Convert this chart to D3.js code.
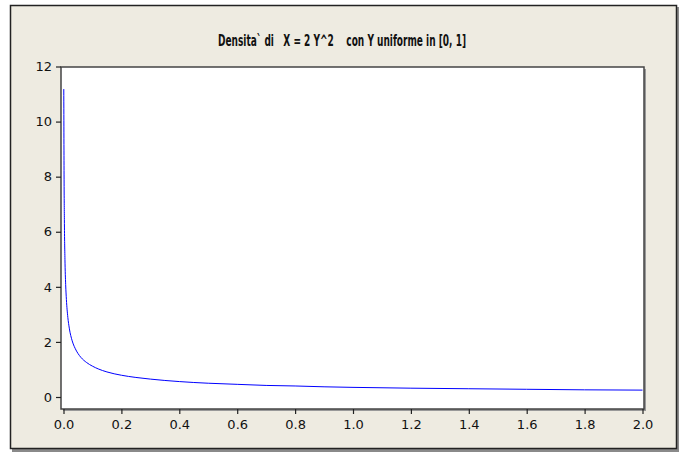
<!DOCTYPE html>
<html>
<head>
<meta charset="utf-8">
<script src="https://cdn.jsdelivr.net/npm/d3@7"></script>
<style>
  body { margin: 0; background: #fff; }
  text { font-family: "DejaVu Sans", Arial, sans-serif; fill: #111; }
</style>
</head>
<body>
<svg width="684" height="452"></svg>
<script>
(function (d3) {
  'use strict';

  // values
  const xValues = [0.001, 0.002, 0.003, 0.005, 0.0075, 0.01, 0.015, 0.02, 0.03, 0.04,
    0.05, 0.06, 0.08, 0.1, 0.12, 0.15, 0.2, 0.25, 0.3, 0.4, 0.5, 0.6, 0.7, 0.8, 0.9,
    1.0, 1.2, 1.4, 1.6, 1.8, 2.0];
  const densityValues = [11.18, 7.91, 6.45, 5.0, 4.08, 3.54, 2.89, 2.5, 2.04, 1.77,
    1.58, 1.44, 1.25, 1.12, 1.02, 0.91, 0.79, 0.71, 0.65, 0.56, 0.5, 0.46, 0.42, 0.4, 0.37,
    0.35, 0.32, 0.3, 0.28, 0.26, 0.25];
  const xTicks = [0, 0.2, 0.4, 0.6, 0.8, 1.0, 1.2, 1.4, 1.6, 1.8, 2.0];
  const yTicks = [0, 2, 4, 6, 8, 10, 12];
  const title = 'Densita` di   X = 2 Y^2    con Y uniforme in [0, 1]';

  const svg = d3.select('svg');

  // outer panel with shadow
  svg.append('rect').attr('x', 12).attr('y', 7).attr('width', 667).attr('height', 445)
    .attr('fill', '#8a8a8a');
  svg.append('rect').attr('x', 10.5).attr('y', 5.5).attr('width', 666).attr('height', 443)
    .attr('fill', '#eeebe1').attr('stroke', '#222').attr('stroke-width', 1.5);

  const left = 61, right = 644, top = 67, bottom = 409;

  const xScale = d3.scaleLinear().domain([0, 2]).range([63.5, 642.5]);
  const yScale = d3.scaleLinear().domain([0, 12]).range([397, 66.5]);

  // plot area
  svg.append('rect').attr('x', left + 2).attr('y', top + 2)
    .attr('width', right - left).attr('height', bottom - top).attr('fill', '#999');
  svg.append('rect').attr('x', left).attr('y', top)
    .attr('width', right - left).attr('height', bottom - top)
    .attr('fill', '#fff').attr('stroke', '#444').attr('stroke-width', 1.5);

  svg.append('text')
    .attr('x', 218).attr('y', 46)
    .style('white-space', 'pre')
    .attr('font-family', '"Liberation Sans", Arial, sans-serif')
    .attr('font-size', 16).attr('font-weight', 'bold')
    .attr('textLength', 248).attr('lengthAdjust', 'spacingAndGlyphs')
    .text(title);

  const yAxis = d3.axisLeft(yScale).tickValues(yTicks).tickFormat(d3.format('d'))
    .tickSize(5).tickPadding(4);
  const yG = svg.append('g').attr('transform', `translate(${left},0)`).call(yAxis);

  const xAxis = d3.axisBottom(xScale).tickValues(xTicks).tickFormat(d3.format('.1f'))
    .tickSize(5).tickPadding(6);
  const xG = svg.append('g').attr('transform', `translate(0,${bottom})`).call(xAxis);

  [yG, xG].forEach(g => {
    g.select('.domain').remove();
    g.selectAll('line').attr('stroke', '#222').attr('stroke-width', 1.2);
    g.selectAll('text').attr('font-size', 13).attr('fill', '#222')
      .attr('font-family', '"DejaVu Sans", Arial, sans-serif');
  });

  const line = d3.line()
    .x((d, i) => xScale(xValues[i]))
    .y(d => yScale(d))
    .curve(d3.curveMonotoneX);

  svg.append('path')
    .datum(densityValues)
    .attr('d', line)
    .attr('fill', 'none')
    .attr('stroke', '#0000ff')
    .attr('stroke-width', 1);

}(d3));
</script>
</body>
</html>
